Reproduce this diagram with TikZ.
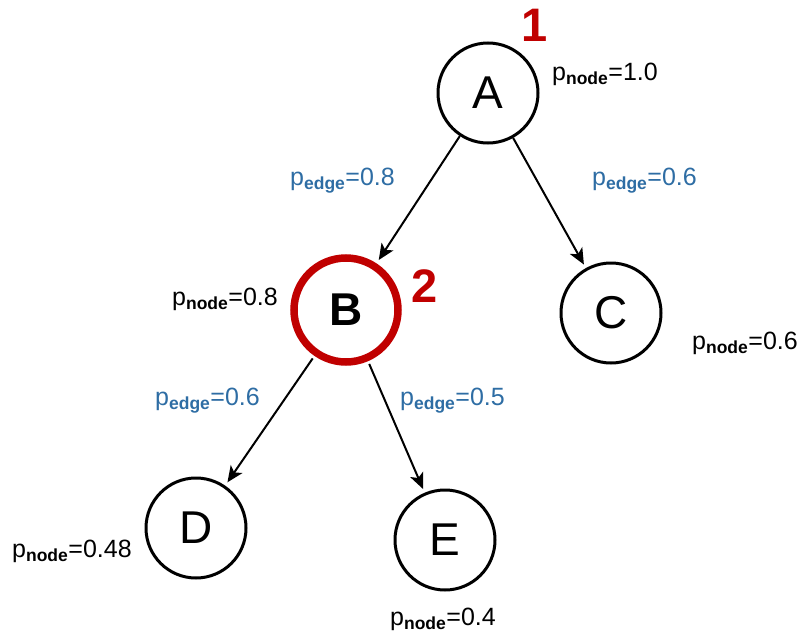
\documentclass[tikz,border=0pt]{standalone}
\usepackage{fontspec}
\setmainfont{Liberation Sans}
\usetikzlibrary{arrows.meta}
\definecolor{hotRed}{HTML}{C00000}
\definecolor{edgeBlue}{HTML}{2E6DA4}
\tikzset{
  state/.style={circle, draw, line width=3pt, minimum size=100pt, inner sep=0pt,
        font=\fontsize{46}{48}\selectfont},
  visited/.style={draw=hotRed, line width=7.5pt, minimum size=104pt,
        font=\fontsize{46}{48}\selectfont\bfseries},
  nprob/.style={font=\fontsize{25}{28}\selectfont, inner sep=0pt, anchor=base west},
  eprob/.style={nprob, text=edgeBlue},
  rank/.style={font=\fontsize{47}{48}\selectfont\bfseries, text=hotRed, inner sep=0pt, anchor=base},
  link/.style={-{Stealth[length=16pt,width=14pt,inset=4pt]}, line width=2pt, shorten >=4pt},
}
\newcommand{\pn}[1]{p\textsubscript{\textbf{node}}=#1}
\newcommand{\pe}[1]{p\textsubscript{\textbf{edge}}=#1}

\begin{document}
\begin{tikzpicture}[x=1pt, y=-1pt]
  \useasboundingbox (0,0) rectangle (808,634);
  % tree
  \node[state] (a) at (488,93) {A};
  \node[state, visited] (b) at (346,310) {B};
  \node[state] (c) at (611,313) {C};
  \node[state] (d) at (196,528) {D};
  \node[state] (e) at (445,540) {E};
  \draw[link] (a) -- (b);
  \draw[link] (a) -- (c);
  \draw[link, shorten <=3pt] (b) -- (d);
  \draw[link, shorten <=3pt] (b) -- (e);
  % visit order
  \node[rank] (r1) at (535,42) {1};
  \node[rank] (r2) at (425,302) {2};
  % node probabilities
  \node[nprob] (pa) at (552,80) {\pn{1.0}};
  \node[nprob] (pb) at (172,305) {\pn{0.8}};
  \node[nprob] (pc) at (692,349) {\pn{0.6}};
  \node[nprob] (pd) at (12,557) {\pn{0.48}};
  \node[nprob] (pe) at (390,625) {\pn{0.4}};
  % edge probabilities
  \node[eprob] (eab) at (290,185) {\pe{0.8}};
  \node[eprob] (eac) at (592,185) {\pe{0.6}};
  \node[eprob] (ebd) at (155,405) {\pe{0.6}};
  \node[eprob] (ebe) at (400,405) {\pe{0.5}};
\end{tikzpicture}
\end{document}
